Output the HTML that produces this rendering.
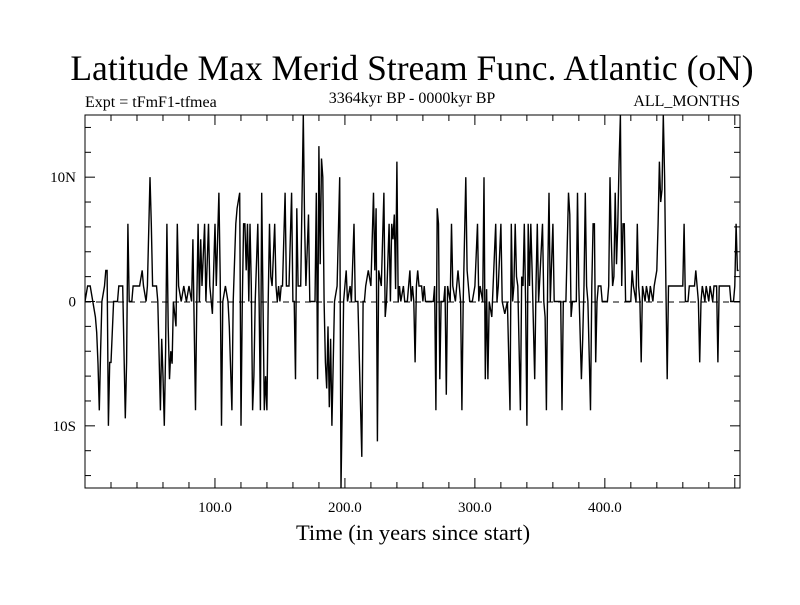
<!DOCTYPE html>
<html><head><meta charset="utf-8"><style>
body{margin:0;background:#fff}
svg text{font-family:"Liberation Serif",serif;fill:#000}
</style></head><body>
<svg id="c" width="800" height="600" xmlns="http://www.w3.org/2000/svg">
<text x="412" y="80" font-size="35.5" text-anchor="middle">Latitude Max Merid Stream Func. Atlantic (oN)</text>
<text x="85" y="107" font-size="16">Expt = tFmF1-tfmea</text>
<text x="412" y="103" font-size="16" text-anchor="middle">3364kyr BP - 0000kyr BP</text>
<text x="740" y="106" font-size="16" text-anchor="end">ALL_MONTHS</text>
<text x="413" y="540" font-size="22.5" text-anchor="middle">Time (in years since start)</text>
<g id="axes"></g>
<defs><clipPath id="clip"><rect x="85" y="115" width="655" height="373"/></clipPath></defs>
<line x1="85" x2="740" y1="302" y2="302" stroke="#000" stroke-width="1" stroke-dasharray="6,5"/>
<path id="series" fill="none" stroke="#000" stroke-width="1.4" clip-path="url(#clip)"/>
<rect x="85" y="115" width="655" height="373" fill="none" stroke="#000" stroke-width="1"/>
</svg>
<script>
const years=[0,2,4,6,8,9,10,11,12,13,15,16,17,18,19,20,22,25,26,29,31,32,33,34,36,37,42,44,45,47,48,50,51,52,55,56,58,59,60,61,62,63,64,65,66,67,68,70,71,72,74,76,78,80,82,83,84,85,86,87,88,89,90,92,93,95,96,98,100,101,103,104,105,106,108,110,111,113,114,116,117,119,120,121,122,
123,124,125,126,127,128,129,130,131,133,134,135,136,137,138,139,140,141,142,143,144,146,147,148,149,150,151,152,154,155,157,159,160,161,162,163,164,166,168,169,170,172,173,177,178,179,180,181,182,183,184,185,186,187,188,189,190,191,192,194,196,197,198,199,200,201,202,204,205,207,208,210,213,214,215,216,218,220,222,223,224,225,226,228,230,231,232,234,235,236,237,238,239,240,241,242,243,245,246,
248,250,251,252,253,254,255,256,257,259,260,261,262,268,269,270,271,272,273,274,276,277,278,279,281,282,283,285,287,288,289,290,291,293,294,296,298,300,302,303,304,306,307,308,309,310,311,313,314,316,317,318,320,321,323,325,327,328,329,330,331,332,333,335,336,337,338,339,340,341,342,343,344,346,347,348,349,350,352,353,354,355,356,357,358,360,361,366,367,368,370,372,
373,374,375,378,379,380,382,383,384,385,386,387,389,390,391,392,393,394,395,397,398,402,403,404,405,406,407,408,409,410,411,412,413,414,415,416,420,421,422,424,425,426,427,428,429,431,432,434,435,437,438,440,441,442,443,444,445,446,447,448,449,460,461,462,464,465,469,470,471,472,473,474,475,477,478,480,481,483,484,486,487,488,496,497,499,500,501,502,503];
const values=[0,1.25,1.25,0,-1.25,-2.5,-5,-8.75,-4,0,1.25,2.5,2.5,-10,-4.9,-4.9,0,0,1.25,1.25,-9.4,-4.9,6.25,0,0,1.25,1.25,2.5,1.25,0,1.25,10,6.25,1.25,1.25,0,-8.75,-3,-6,-10,-4,6.25,-2,-6.25,-4,-5,0,-2,6.25,1.25,0,1.25,0,1.25,0,5,-2,-8.75,0,6.25,0,5,1.25,6.25,0,6.25,1.25,-1,6.25,1.25,8.75,2,-10,0,1.25,0,-2,-8.75,0,6.25,7.5,8.75,-10,0,6.25,
6.25,2.5,6.25,0,6.25,1.25,-8.75,-6,0,6.25,0,-8.75,8.75,0,-8.75,-6,-8.75,0,6.25,2,1.25,6.25,1.25,0,1.25,0,1.25,1.25,8.75,1.25,1.25,8.75,0,0,-6.25,7.5,1.25,1.25,15,6.25,1.25,7,0,0,8.75,-6.25,12.5,3,11.5,10,0,-4.9,-7,-2,-8.5,-3,-10,-5,0,1.25,10,-15,-8,0,1.25,2.5,0,1.25,0,6.25,0,0,-12.5,0,0,1.25,2.5,1.25,8.75,2.5,7.5,-11.25,2.5,1.25,8.75,-1.25,0,6.25,0,6.25,5,7,1,11.25,0,1.25,0,1.25,0,
0,2.5,0,1.25,0,-4.9,1.25,2.5,1.25,1.25,0,1.25,0,0,1.25,-8.75,7.5,6.25,-6.25,0,0,1.25,-7.5,1.25,0,6.25,1.25,0,2.5,1.25,0,-8.75,0,10,2.5,0,0,1.25,6.25,0,1.25,0,10,-6.25,1,-6.25,0,-1.25,1.25,6.25,0,1.25,6.25,0,-1,0,-8.75,6.25,0,1.25,6.25,2,1.25,-8.75,2,1.25,6.25,0,-10,6.25,1.25,6.25,2.5,-6.25,1.25,6.25,0,2,6.25,0,-1.25,-8.75,2,8.75,0,6.25,0,0,-8.75,0,0,8.75,
7,-1.25,0,0,8.75,1.25,-6.25,-3,1.25,8.75,1.25,0,-8.75,1.25,6.25,6.25,-4.9,0,1.25,1.25,0,0,1.25,10,5,1.25,2,8.75,3,6.25,11.25,15,1.25,6.25,6.25,0,0,2.5,1.25,0,6.25,1.25,0,-4.9,1.25,0,1.25,0,1.25,0,1.25,2.5,6.25,11.25,8,9,15,10,1.25,-6.25,1.25,1.25,6.25,0,0,1.25,1.25,2.5,1.25,0,-4.9,0,1.25,0,1.25,0,1.25,0,1.25,1.25,-4.9,1.25,1.25,0,0,1.25,6.25,2.5,2.5];
const xTicks=[100,200,300,400];
const xTickLabels=["100.0","200.0","300.0","400.0"];
const yTicks=[10,0,-10];
const yTickLabels=["10N","0","10S"];
const X0=85,X1=740,Y0=488,Y1=115,XMIN=0,XMAX=504,YMIN=-15,YMAX=15;
const sx=v=>X0+(v-XMIN)/(XMAX-XMIN)*(X1-X0);
const sy=v=>Y0-(v-YMIN)/(YMAX-YMIN)*(Y0-Y1);
const NS="http://www.w3.org/2000/svg";
const ax=document.getElementById('axes');
function ln(x1,y1,x2,y2,name){const l=document.createElementNS(NS,'line');l.setAttribute('x1',x1);l.setAttribute('y1',y1);l.setAttribute('x2',x2);l.setAttribute('y2',y2);l.setAttribute('stroke','#000');


ax.appendChild(l);}
function tx(x,y,s,anchor,name){const t=document.createElementNS(NS,'text');t.setAttribute('x',x);t.setAttribute('y',y);t.setAttribute('font-size','15');t.setAttribute('text-anchor',anchor);t.textContent=s;


ax.appendChild(t);}
for(let v=20;v<XMAX;v+=20){const x=sx(v);const major=v%100===0;const L=major?10:6;
ln(x,Y0,x,Y0-L,'x-tick');ln(x,Y1,x,Y1+L,'x-tick');}
for(let v=-14;v<=14;v+=2){const y=sy(v);const major=v%10===0;const L=major?10:6;
ln(X0,y,X0+L,y,'y-tick');ln(X1,y,X1-L,y,'y-tick');}
xTicks.forEach((v,i)=>tx(sx(v),512,xTickLabels[i],'middle','x-tick-label'));
yTicks.forEach((v,i)=>tx(76,sy(v)+5,yTickLabels[i],'end','y-tick-label'));
let d='';years.forEach((yr,i)=>{d+=(i?'L':'M')+sx(yr).toFixed(1)+','+sy(values[i]).toFixed(1);});
document.getElementById('series').setAttribute('d',d);
</script>
</body></html>
